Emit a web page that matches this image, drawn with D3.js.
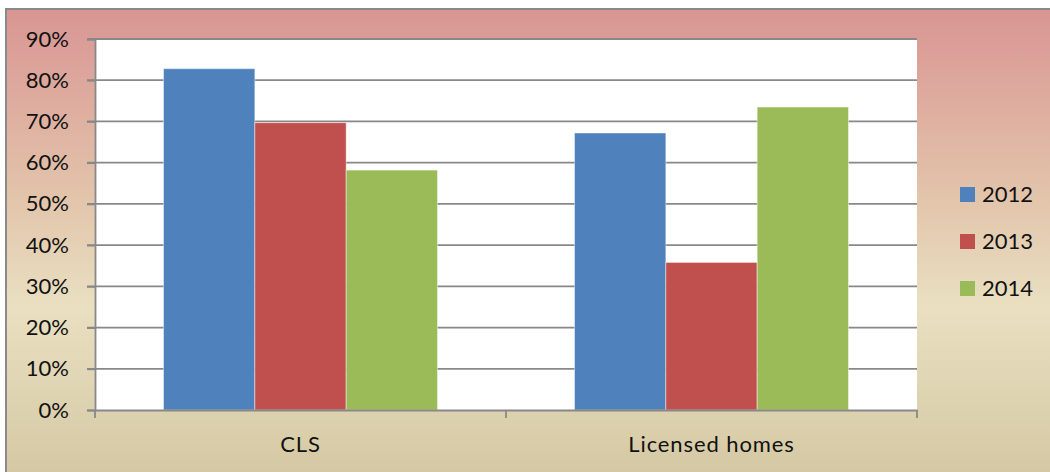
<!DOCTYPE html>
<html>
<head>
<meta charset="utf-8">
<script src="https://cdn.jsdelivr.net/npm/d3@7"></script>
<style>
  html, body { margin: 0; padding: 0; background: #ffffff; }
  svg { display: block; }
  text { font-family: Lato, "Open Sans", sans-serif; fill: #111; }
</style>
</head>
<body>
<svg id="chart" width="1050" height="472"></svg>
<script>
// Share of cases per year, by setting
const categories = ["CLS", "Licensed homes"];
const years = ["2012", "2013", "2014"];
const values2012 = [0.828, 0.672];
const values2013 = [0.697, 0.358];
const values2014 = [0.582, 0.735];
const yTicks = [0, 0.1, 0.2, 0.3, 0.4, 0.5, 0.6, 0.7, 0.8, 0.9];
const colors = ["#4f81bd", "#c0504d", "#9bbb59"];

const series = [values2012, values2013, values2014];

const svg = d3.select("#chart");
const W = 1050, H = 472;
const plot = { left: 95, right: 917, top: 39, bottom: 410 };
const FONT = "22px";

// Background gradient panel
const defs = svg.append("defs");
const grad = defs.append("linearGradient")
  .attr("id", "bg").attr("x1", 0).attr("y1", 0).attr("x2", 0).attr("y2", 1);
[[0, "#d99593"], [0.38, "#e2c3aa"], [0.62, "#e9e0c1"], [1, "#d3c6a1"]]
  .forEach(([o, c]) => grad.append("stop").attr("offset", o).attr("stop-color", c));

svg.append("rect")
  .attr("x", 6).attr("y", 9).attr("width", W + 10).attr("height", H + 10)
  .attr("fill", "url(#bg)")
  .attr("stroke", "#8a8a8a").attr("stroke-width", 2);

// Plot area
svg.append("rect")
  .attr("x", plot.left).attr("y", plot.top)
  .attr("width", plot.right - plot.left).attr("height", plot.bottom - plot.top)
  .attr("fill", "#ffffff");

const x0 = d3.scaleBand().domain(categories).range([plot.left, plot.right]).paddingInner(0).paddingOuter(0);
const x1 = d3.scaleBand().domain(years).range([0, x0.bandwidth()]).paddingInner(0).paddingOuter(0.75);
const y = d3.scaleLinear().domain([0, 0.9]).range([plot.bottom, plot.top]);

// Gridlines
svg.append("g").selectAll("line").data(yTicks.filter(t => t > 0)).join("line")
  .attr("x1", plot.left - 8).attr("x2", plot.right)
  .attr("y1", d => y(d)).attr("y2", d => y(d))
  .attr("stroke", "#888888").attr("stroke-width", 1.8);

// Bars
const groups = svg.append("g").selectAll("g").data(categories).join("g")
  .attr("transform", d => `translate(${x0(d)},0)`);
groups.selectAll("rect")
  .data((c, ci) => years.map((yr, si) => ({ yr, si, v: series[si][ci] })))
  .join("rect")
  .attr("x", d => x1(d.yr))
  .attr("width", x1.bandwidth())
  .attr("y", d => y(d.v))
  .attr("height", d => plot.bottom - y(d.v))
  .attr("fill", d => colors[d.si])
  .attr("stroke", "rgba(255,255,255,0.45)")
  .attr("stroke-width", 1);

// Y axis
const yAxis = svg.append("g")
  .attr("transform", `translate(${plot.left},0)`)
  .call(d3.axisLeft(y).tickValues(yTicks).tickFormat(d3.format(".0%")).tickSize(8).tickPadding(18));
yAxis.select(".domain").attr("stroke", "#888888").attr("stroke-width", 1.8);
yAxis.selectAll(".tick line").attr("stroke", "#888888").attr("stroke-width", 1.8);
yAxis.selectAll(".tick text")
  .style("font-family", "Lato, 'Open Sans', sans-serif")
  .style("font-size", FONT).attr("fill", "#111");

// X axis
const xAxis = svg.append("g")
  .attr("transform", `translate(0,${plot.bottom})`)
  .call(d3.axisBottom(x0).tickSize(0).tickPadding(26));
xAxis.select(".domain").attr("stroke", "#888888").attr("stroke-width", 1.8);
xAxis.selectAll(".tick text")
  .style("font-family", "Lato, 'Open Sans', sans-serif")
  .style("font-size", FONT).style("letter-spacing", "0.9px").attr("fill", "#111");
// Category boundary ticks
const bounds = [plot.left, ...categories.map(c => x0(c) + x0.bandwidth())];
xAxis.append("g").selectAll("line").data(bounds).join("line")
  .attr("x1", d => d).attr("x2", d => d)
  .attr("y1", 0).attr("y2", 8)
  .attr("stroke", "#888888").attr("stroke-width", 1.8);

// Legend
const legend = svg.append("g").attr("transform", "translate(960,187)");
const items = legend.selectAll("g").data(years).join("g")
  .attr("transform", (d, i) => `translate(0,${i * 47})`);
items.append("rect").attr("width", 15).attr("height", 15)
  .attr("fill", (d, i) => colors[i]);
items.append("text").attr("x", 22).attr("y", 15)
  .style("font-size", FONT).text(d => d);
</script>
</body>
</html>
